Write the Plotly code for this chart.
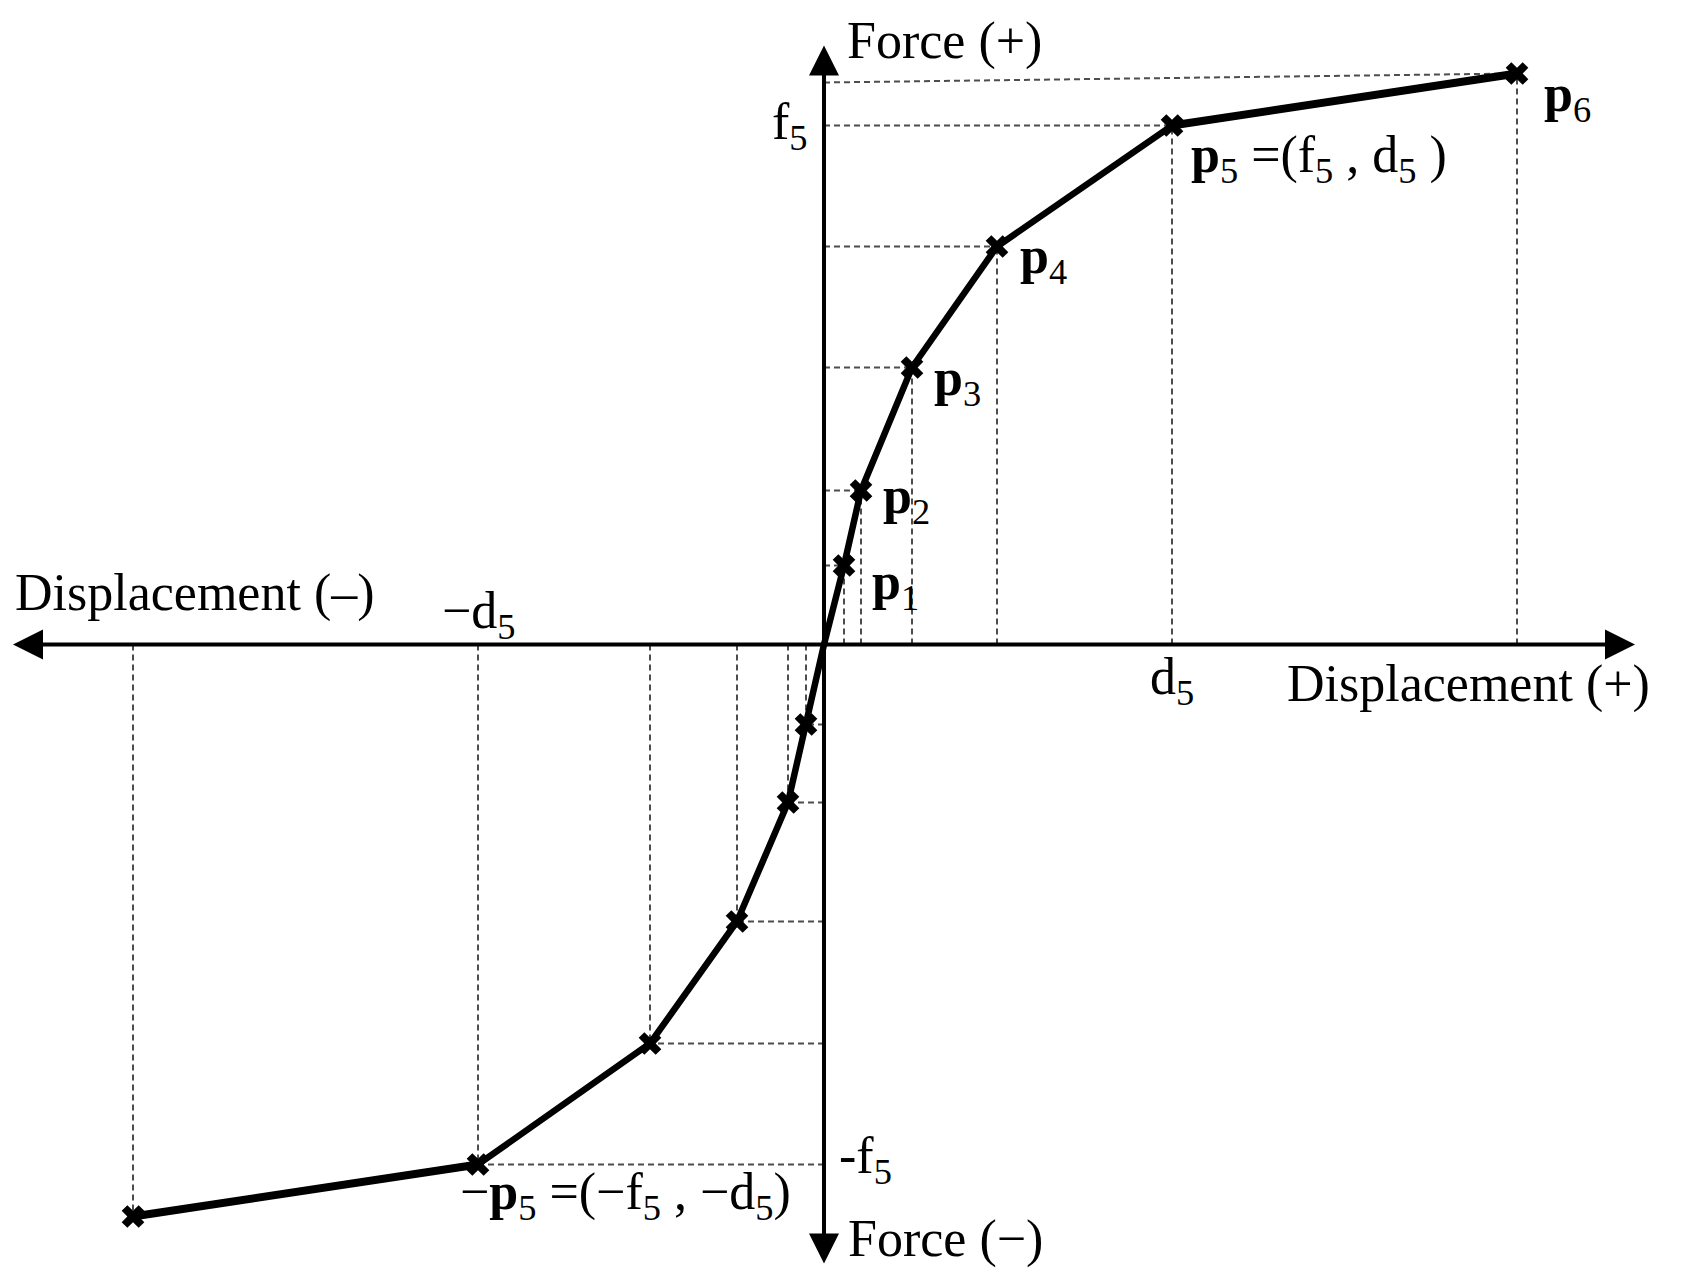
# -*- coding: utf-8 -*-
"""
Multi-linear force-displacement backbone curve (p1..p6 and mirror)
"""

import plotly.graph_objects as go

# =============================================================================
# Data
# =============================================================================
# positive branch p1..p6 (displacement, force)
disp_pos = [2.0, 3.7, 8.8, 17.3, 34.8, 69.3]
force_pos = [7.9, 15.4, 27.7, 39.8, 51.9, 57.1]
# negative branch -p1..-p6
disp_neg = [-1.8, -3.6, -8.7, -17.4, -34.6, -69.1]
force_neg = [-8.0, -15.8, -27.7, -39.9, -52.0, -57.2]
# where the p6 guide meets the force axis (drawn slightly tilted in the original)
force_p6_axis = 56.2

point_labels = ["p<sub>1</sub>", "p<sub>2</sub>", "p<sub>3</sub>", "p<sub>4</sub>",
                "p<sub>5</sub> =(f<sub>5</sub> , d<sub>5</sub> )", "p<sub>6</sub>"]

FONT = "Liberation Serif, Times New Roman, serif"
FS = 52
GUIDE = dict(color="#4d4d4d", width=2, dash="6px,4px")

# =============================================================================
# Build curve (negative end -> origin -> positive end)
# =============================================================================
curve_x = disp_neg[::-1] + [0.0] + disp_pos
curve_y = force_neg[::-1] + [0.0] + force_pos

# guide lines
gx, gy = [], []
for d, f in zip(disp_pos[:5], force_pos[:5]):
    gx += [d, d, None, 0, d, None]
    gy += [0, f, None, f, f, None]
gx += [disp_pos[5], disp_pos[5], None, 0, disp_pos[5], None]
gy += [0, force_pos[5], None, force_p6_axis, force_pos[5], None]
for d, f in zip(disp_neg[:5], force_neg[:5]):
    gx += [d, d, None, 0, d, None]
    gy += [0, f, None, f, f, None]
gx += [disp_neg[5], disp_neg[5], None]
gy += [0, force_neg[5], None]

fig = go.Figure()
fig.add_scatter(x=gx, y=gy, mode="lines", line=GUIDE, hoverinfo="skip")
fig.add_scatter(x=curve_x, y=curve_y, mode="lines",
                line=dict(color="black", width=6.5))
# thicker end segments
fig.add_scatter(x=disp_pos[4:], y=force_pos[4:], mode="lines",
                line=dict(color="black", width=8))
fig.add_scatter(x=disp_neg[4:], y=force_neg[4:], mode="lines",
                line=dict(color="black", width=8))
fig.add_scatter(x=disp_pos + disp_neg, y=force_pos + force_neg, mode="markers",
                marker=dict(symbol="x", size=20, color="black", line=dict(width=0)))

# =============================================================================
# Axes arrows
# =============================================================================
def arrow(x, y):
    fig.add_annotation(x=x, y=y, ax=0, ay=0, xref="x", yref="y", axref="x", ayref="y",
                       text="", showarrow=True, arrowhead=2, arrowsize=1.5,
                       arrowwidth=4, arrowcolor="black")

arrow(81.1, 0)
arrow(-81.1, 0)
arrow(0, 59.9)
arrow(0, -61.9)

# =============================================================================
# Text
# =============================================================================
def label(x, y, text, anchor="left", size=FS):
    fig.add_annotation(x=x, y=y, xref="x", yref="y", text=text, showarrow=False,
                       xanchor=anchor, yanchor="middle",
                       font=dict(family=FONT, size=size, color="black"))

label(2.1, 60.4, "Force (+)")
label(2.2, -59.4, "Force (−)")
label(-81.1, 5.2, "Displacement (–)")
label(46.1, -3.95, "Displacement (+)")
label(-1.4, force_pos[4], "f<sub>5</sub>", anchor="right")
label(1.3, -51.5, "-f<sub>5</sub>")
label(-38.4, 3.0, "−d<sub>5</sub>")
label(disp_pos[4], -3.55, "d<sub>5</sub>", anchor="center")

label_pos = [(4.6, 5.9), (5.7, 14.5), (10.8, 26.3), (19.4, 38.5), (36.5, 48.6), (71.8, 54.7)]
for (lx, ly), t in zip(label_pos, point_labels):
    t = t.replace("p<sub>", "<b>p</b><sub>", 1)
    label(lx, ly, t)
label(-36.6, -55.1, "−<b>p</b><sub>5</sub> =(−f<sub>5</sub> , −d<sub>5</sub>)")

# page body has an 8px margin, so the figure is sized to fit the window
fig.update_layout(
    width=1681, height=1274,
    margin=dict(l=0, r=0, t=0, b=0),
    paper_bgcolor="white", plot_bgcolor="white",
    showlegend=False,
    xaxis=dict(range=[-81.6, 86.5], visible=False, fixedrange=True),
    yaxis=dict(range=[-63.75, 63.65], visible=False, fixedrange=True),
)
fig.write_html("out.html")
